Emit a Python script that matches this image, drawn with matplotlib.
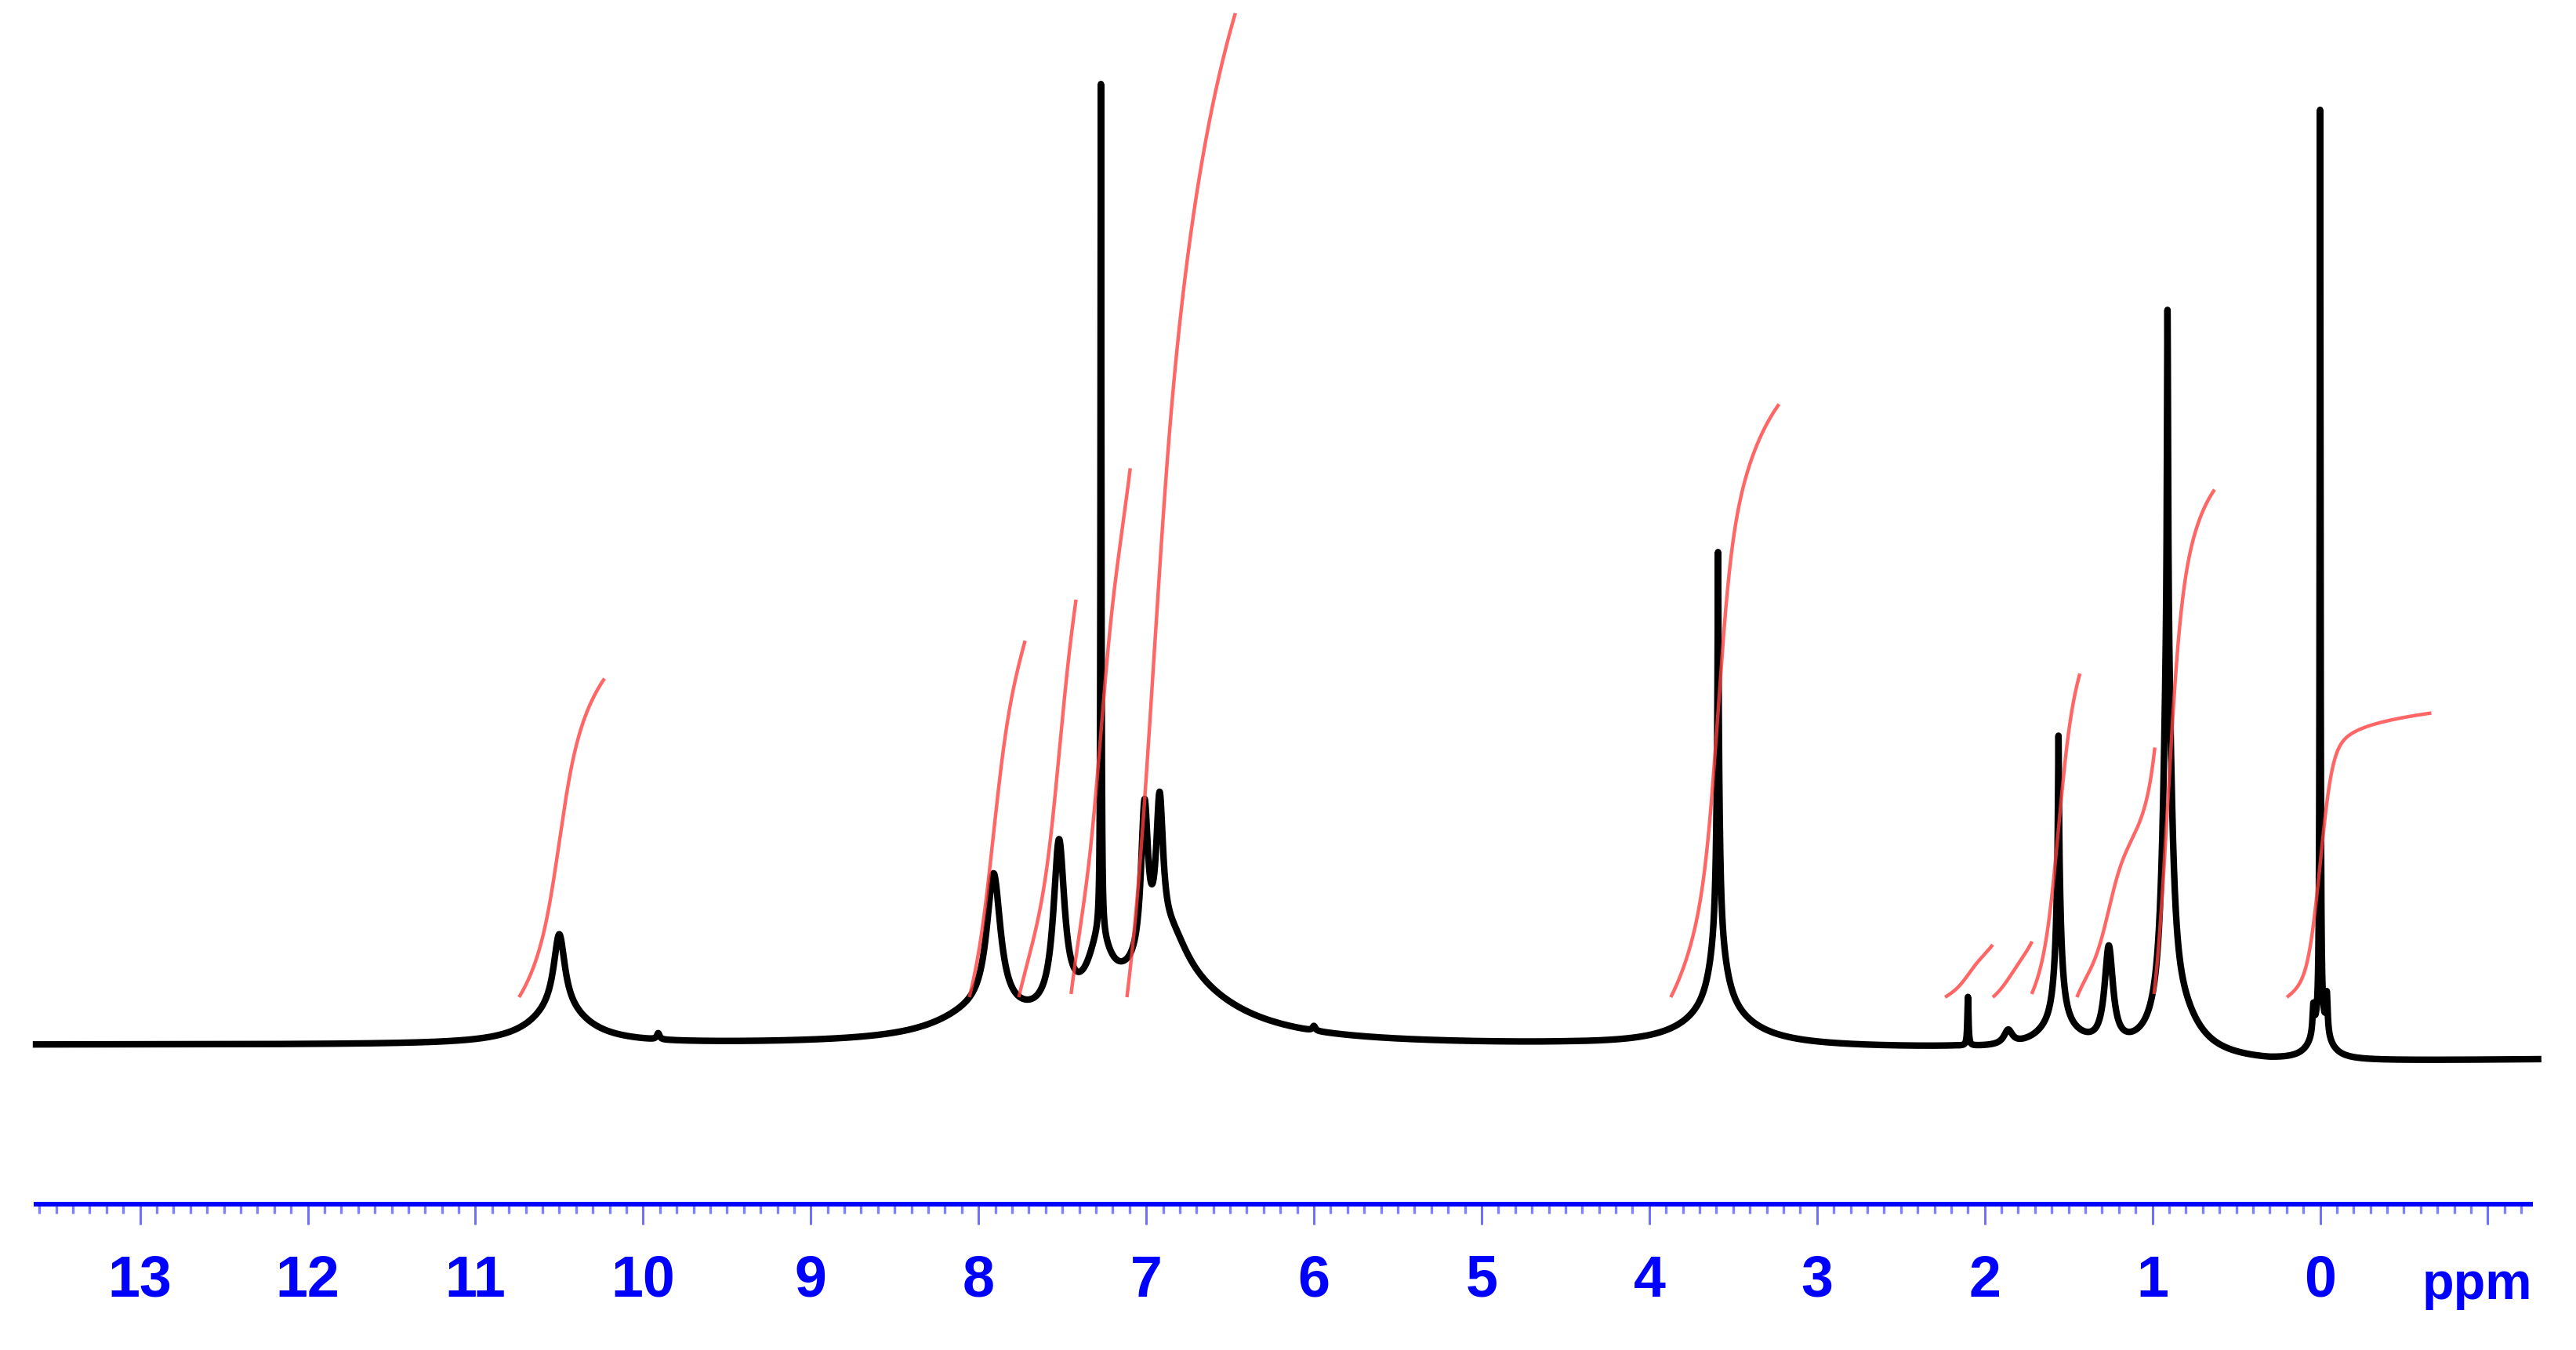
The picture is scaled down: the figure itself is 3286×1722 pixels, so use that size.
import numpy as np
import matplotlib
matplotlib.use("Agg")
import matplotlib.pyplot as plt
from matplotlib.ticker import MultipleLocator, FixedLocator, FixedFormatter

# ---------------- data ----------------
# Lorentzian lines: centre (ppm), height above baseline, half width (ppm)
peak_ppm    = [10.50, 10.50, 9.91, 8.00, 7.91, 7.52, 7.28, 7.27, 7.01, 6.92, 6.85, 6.90, 6.00,
               3.59, 3.59, 3.59, 3.59, 2.10, 1.86, 1.56, 1.56, 1.56, 1.56, 1.26,
               0.91, 0.91, 0.85, 0.04, -0.04, 0.00, 0.00]
peak_height = [95, 45, 8, 30, 174, 213, 75, 1085, 193, 181, 50, 85, 6,
               260, 240, 90, 40, 62, 18, 150, 130, 90, 30, 123,
               424, 480, 55, 35, 50, 1165, 45]
peak_hwhm   = [0.04, 0.20, 0.01, 0.30, 0.05, 0.04, 0.08, 0.003, 0.025, 0.025, 0.12, 0.45, 0.01,
               0.003, 0.012, 0.06, 0.25, 0.004, 0.03, 0.003, 0.012, 0.03, 0.15, 0.03,
               0.004, 0.03, 0.15, 0.006, 0.006, 0.003, 0.06]

# baseline level read at a few chemical shifts
base_ppm   = [13.6, 4.5, 2.2, 0.3, -1.3]
base_level = [9, 7, 3, -14, -10]

# integral traces: start/end shift and start/end level
int_start = [10.74, 8.055, 7.76, 7.448, 7.115, 3.872, 2.236, 1.952, 1.72, 1.45, 0.99, 0.198]
int_end   = [10.23, 7.722, 7.418, 7.095, 6.468, 3.226, 1.952, 1.717, 1.432, 0.985, 0.629, -0.664]
int_low   = [70.0, 70.0, 70.0, 74.1, 70.0, 70.0, 70.0, 70.0, 74.1, 70.0, 74.1, 70.0]
int_high  = [476.5, 524.7, 577.1, 744.7, 1325.2, 826.5, 137.0, 141.1, 482.8, 388.5, 717.5, 432.5]

major_ticks = [13, 12, 11, 10, 9, 8, 7, 6, 5, 4, 3, 2, 1, 0, -1]
major_labels = ["13", "12", "11", "10", "9", "8", "7", "6", "5", "4", "3", "2", "1", "0", ""]
unit_label = "ppm"

# ---------------- build spectrum ----------------
step = 0.0005
ppm = np.linspace(13.62, -1.30, 29841)
baseline = np.interp(ppm, base_ppm[::-1], base_level[::-1])
signal = np.zeros_like(ppm)
for c, h, w in zip(peak_ppm, peak_height, peak_hwhm):
    signal += h * w**2 / ((ppm - c) ** 2 + w**2)
spectrum = baseline + signal

# smoothed signal used for the integral traces
sig_k = 0.05 / step
kx = np.arange(-int(4 * sig_k), int(4 * sig_k) + 1)
kern = np.exp(-0.5 * (kx / sig_k) ** 2)
kern /= kern.sum()
smooth = np.convolve(signal, kern, mode="same")

# ---------------- figure ----------------
W, H = 3286, 1722
fig = plt.figure(figsize=(W / 100, H / 100), dpi=100)
fig.patch.set_facecolor("white")

ax = fig.add_axes([0, 0, 1, 1])
ax.set_xlim(13.835, -1.526)
ax.set_ylim(-380, 1342)
ax.axis("off")

ax.plot(ppm, spectrum, color="black", lw=6.0, solid_joinstyle="round", zorder=2)

for s, e, y0, y1 in zip(int_start, int_end, int_low, int_high):
    m = (ppm <= s) & (ppm >= e)
    cs = np.cumsum(smooth[m])
    cs = (cs - cs[0]) / (cs[-1] - cs[0])
    ax.plot(ppm[m], y0 + (y1 - y0) * cs, color="#ff4040", lw=3.2, alpha=0.8,
            solid_capstyle="butt", zorder=3)

# ---------------- ppm scale ----------------
ax2 = fig.add_axes([46 / W, (H - 1536) / H, (3228 - 46) / W, 1e-4])
ax2.set_xlim(13.62, -1.255)
ax2.set_ylim(0, 1)
ax2.patch.set_alpha(0)
for sp in ["top", "left", "right"]:
    ax2.spines[sp].set_visible(False)
ax2.spines["bottom"].set_color("#0000ff")
ax2.spines["bottom"].set_linewidth(4.3)
ax2.set_yticks([])
ax2.xaxis.set_major_locator(FixedLocator(major_ticks))
ax2.xaxis.set_major_formatter(FixedFormatter(major_labels))
ax2.xaxis.set_minor_locator(MultipleLocator(0.1))
ax2.tick_params(axis="x", which="major", direction="out", length=19, width=2.2,
                color="#7070ff", pad=27, labelcolor="#0000ff")
ax2.tick_params(axis="x", which="minor", direction="out", length=8.5, width=2.4,
                color="#8080ff")
fam = ["Liberation Sans Narrow", "Liberation Sans", "DejaVu Sans"]
for lab in ax2.get_xticklabels():
    lab.set_fontfamily(fam)
    lab.set_fontweight("bold")
    lab.set_fontsize(53)

fig.text(3160 / W, (H - 1657) / H, unit_label, ha="center", va="baseline",
         color="#0000ff", fontsize=48, fontweight="bold", family=fam)

fig.savefig("out.png", dpi=100, facecolor="white")
